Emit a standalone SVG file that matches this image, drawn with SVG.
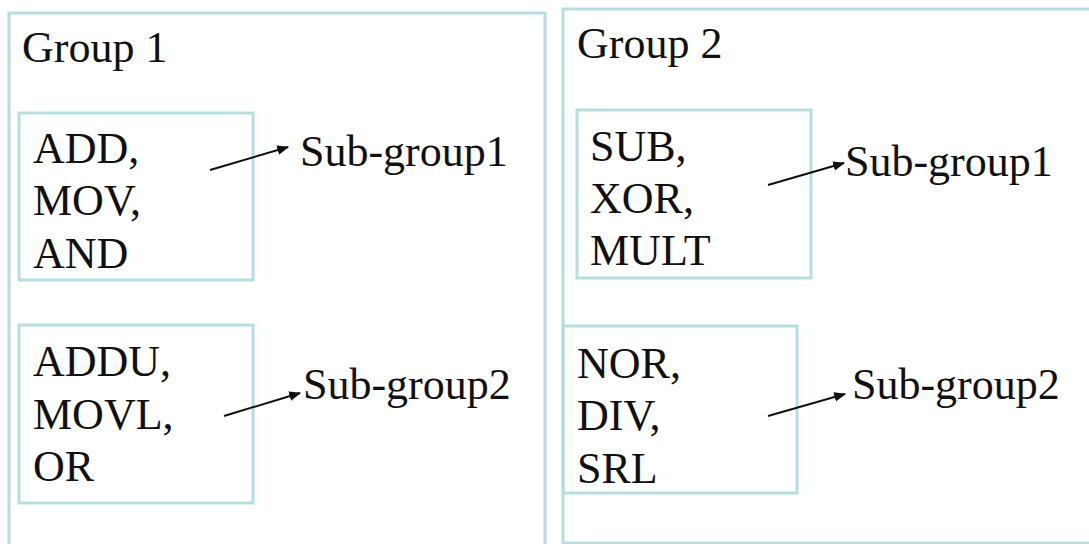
<svg xmlns="http://www.w3.org/2000/svg" width="1089" height="544" viewBox="0 0 1089 544">
<style>
.box{fill:none;stroke:#b4dfe1;stroke-width:3}
.t{font-family:"Liberation Serif","Times New Roman",serif;font-size:44px;fill:#111}
.c{stroke:#111;stroke-width:2;fill:none;marker-end:url(#ah)}
</style>
<defs>
<marker id="ah" viewBox="0 0 10 10" refX="9" refY="5" markerWidth="6" markerHeight="6" orient="auto" markerUnits="strokeWidth">
<path d="M0,1 L10,5 L0,9 z" fill="#111"/>
</marker>
</defs>
<rect width="1089" height="544" fill="#fff"/>
<g id="group1">
<rect class="box" x="9" y="13" width="536" height="540"/>
<text class="t" x="22" y="62">Group 1</text>
</g>
<g id="group2">
<rect class="box" x="563" y="9" width="540" height="534"/>
<text class="t" x="577" y="58">Group 2</text>
</g>
<g id="g1s1">
<rect class="box" x="19" y="113" width="234" height="167"/>
<text class="t" x="33" y="163">ADD,</text>
<text class="t" x="33" y="215">MOV,</text>
<text class="t" x="33" y="268">AND</text>
</g>
<g id="g1s2">
<rect class="box" x="19" y="325" width="234" height="178"/>
<text class="t" x="33" y="376">ADDU,</text>
<text class="t" x="33" y="429">MOVL,</text>
<text class="t" x="33" y="481">OR</text>
</g>
<g id="g2s1">
<rect class="box" x="577" y="110" width="234" height="168"/>
<text class="t" x="590" y="161">SUB,</text>
<text class="t" x="590" y="213">XOR,</text>
<text class="t" x="590" y="265">MULT</text>
</g>
<g id="g2s2">
<rect class="box" x="563" y="326" width="234" height="167"/>
<text class="t" x="577" y="378">NOR,</text>
<text class="t" x="577" y="430">DIV,</text>
<text class="t" x="577" y="483">SRL</text>
</g>
<g id="labels">
<text class="t" x="300" y="166">Sub-group1</text>
<text class="t" x="303" y="399">Sub-group2</text>
<text class="t" x="845" y="176">Sub-group1</text>
<text class="t" x="852" y="399">Sub-group2</text>
</g>
<g id="connectors">
<line class="c" x1="210" y1="170" x2="288" y2="147"/>
<line class="c" x1="224" y1="416" x2="300" y2="393"/>
<line class="c" x1="768" y1="185" x2="844" y2="163"/>
<line class="c" x1="768" y1="416" x2="845" y2="394"/>
</g>
</svg>
